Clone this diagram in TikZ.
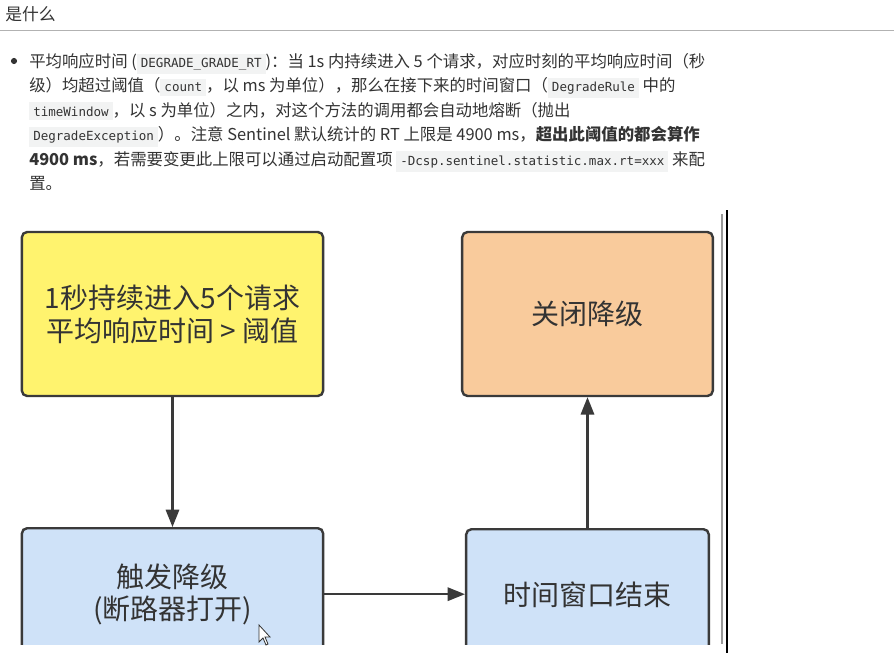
\documentclass[tikz,border=0pt]{standalone}
\usepackage{fontspec}
\setmainfont{Noto Sans CJK SC}
\setmonofont{DejaVu Sans Mono}
\usepackage{xcolor}
\usetikzlibrary{arrows.meta,positioning}

\definecolor{txt}{HTML}{333333}
\definecolor{codebg}{HTML}{F2F3F3}
\definecolor{condfill}{HTML}{FFF36E}
\definecolor{closefill}{HTML}{F9CB9C}
\definecolor{openfill}{HTML}{CFE2F8}
\definecolor{edge}{HTML}{3A3A3A}

\setlength{\fboxsep}{3pt}
\newcommand{\codeword}[1]{\colorbox{codebg}{\ttfamily\fontsize{9.4}{11}\selectfont #1}}

\begin{document}
\begin{tikzpicture}[x=0.75pt, y=-0.75pt,
  para/.style={anchor=base west, inner sep=0pt, text=txt, font=\fontsize{12.3}{15}\selectfont},
  dot/.style={circle, fill=txt, inner sep=0pt, minimum size=4.6pt},
  cond/.style={draw=edge, line width=1.8pt, rounded corners=4pt, minimum width=226pt, minimum height=123pt, align=center, fill=condfill, text=txt, font=\fontsize{21}{24.75}\selectfont},
  closed/.style={draw=edge, line width=1.8pt, rounded corners=4pt, minimum width=188pt, minimum height=123pt, align=center, fill=closefill, text=txt, font=\fontsize{21}{24.75}\selectfont},
  opened/.style={draw=edge, line width=1.8pt, rounded corners=4pt, minimum width=226pt, minimum height=99pt, align=center, fill=openfill, text=txt, font=\fontsize{21}{24}\selectfont},
  flow/.style={draw=edge, line width=1.6pt, -{Triangle[length=13pt,width=10pt]}}
]
\useasboundingbox[fill=white] (0,0) rectangle (894,653);

% heading
\node[para, font=\fontsize{12.6}{15}\selectfont] (head) at (5,20.5) {是什么};
\draw[black!30, line width=0.75pt] (0,30) -- (894,30);

% bullet text
\node[dot] (bul) at (14,61) {};
\node[para] (l1) at (29,67) {平均响应时间 (\codeword{DEGRADE\_GRADE\_RT})：当 1s 内持续进入 5 个请求，对应时刻的平均响应时间（秒};
\node[para] (l2) at (29,91.5) {级）均超过阈值（\codeword{count}，以 ms 为单位），那么在接下来的时间窗口（\codeword{DegradeRule} 中的};
\node[para] (l3) at (29,116) {\codeword{timeWindow}，以 s 为单位）之内，对这个方法的调用都会自动地熔断（抛出};
\node[para] (l4) at (29,140.5) {\codeword{DegradeException}）。注意 Sentinel 默认统计的 RT 上限是 4900 ms，\textbf{超出此阈值的都会算作}};
\node[para] (l5) at (29,165) {\textbf{4900 ms}，若需要变更此上限可以通过启动配置项 \codeword{-Dcsp.sentinel.statistic.max.rt=xxx} 来配};
\node[para] (l6) at (29,189.5) {置。};

% diagram
\begin{scope}
\clip (0,200) rectangle (720,644);
\node[cond] (rt) at (172.5,314) {1秒持续进入5个请求\\平均响应时间 > 阈值};
\node[closed] (off) at (587.5,314) {关闭降级};
\node[opened, anchor=north] (trip) at (172.5,527) {触发降级\\(断路器打开)};
\node[opened, anchor=north, minimum width=182pt] (win) at (587.5,528) {时间窗口结束};
\end{scope}

% arrows
\draw[flow] (rt) -- (trip);
\draw[flow] (trip.east) -- (trip.east -| win.west);
\draw[flow] (win) -- (off);

% screen edges
\draw[black!40, line width=1.5pt] (722,214) -- (722,644);
\draw[black, line width=1.6pt] (727,210) -- (727,653);
\draw[fill=white, draw=black!80, line width=0.6pt] (259,625) -- ++(0,17) -- ++(4,-4) -- ++(3,7) -- ++(2,-1) -- ++(-3,-7) -- ++(5,0) -- cycle;
\end{tikzpicture}
\end{document}
